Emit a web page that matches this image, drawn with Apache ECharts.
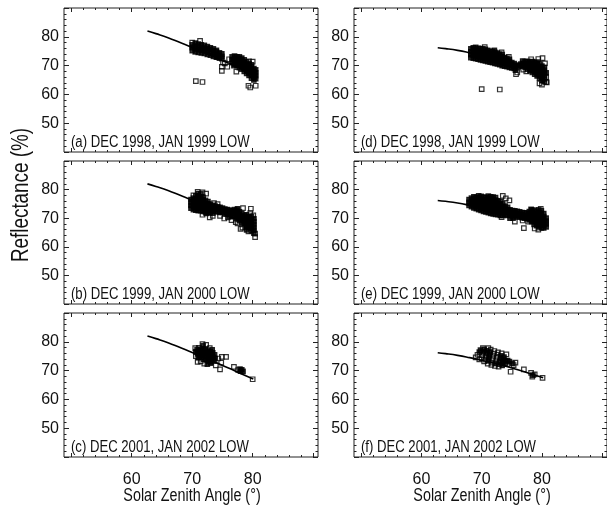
<!DOCTYPE html>
<html>
<head>
<meta charset="utf-8">
<script src="https://cdn.jsdelivr.net/npm/echarts@6/dist/echarts.min.js"></script>
<style>
  html, body { margin: 0; padding: 0; background: #fff; }
  #chart { width: 607px; height: 505px; }
</style>
</head>
<body>
<div id="chart"></div>
<script>
// Reflectance vs. solar zenith angle, six panels.
// Scatter data is written column-wise: [angle, refl1, refl2, ...].

const panelLabels = [
  '(a) DEC 1998, JAN 1999 LOW',
  '(b) DEC 1999, JAN 2000 LOW',
  '(c) DEC 2001, JAN 2002 LOW',
  '(d) DEC 1998, JAN 1999 LOW',
  '(e) DEC 1999, JAN 2000 LOW',
  '(f) DEC 2001, JAN 2002 LOW'
];

const xLabelTicks = [60, 70, 80];
const xMajorTicks = [50, 60, 70, 80, 90];
const xMinorTicks = [50, 52, 54, 56, 58, 60, 62, 64, 66, 68, 70, 72, 74, 76, 78, 80, 82, 84, 86, 88, 90];

// fitted model curves (left column, right column)
const fitLeft = [[62.6, 82.0], [64, 81.1], [66, 79.7], [68, 78.0], [70, 76.3], [72, 74.5],
                 [74, 72.7], [76, 70.9], [78, 69.0], [80.1, 67.1]];
const fitRight = [[62.7, 76.2], [64, 75.9], [66, 75.3], [68, 74.5], [70, 73.6], [72, 72.6],
                  [74, 71.5], [76, 70.3], [78, 69.0], [80.2, 67.5]];

const obsA = [
  [70.0, 75.2, 76.2, 77.2, 78.0],
  [70.5, 74.8, 75.8, 76.8, 77.8],
  [70.6, 64.6],
  [71.0, 74.6, 75.6, 76.6, 77.5],
  [71.3, 78.6],
  [71.5, 74.4, 75.4, 76.4, 77.2],
  [71.7, 64.3],
  [72.0, 74.2, 75.2, 76.1, 77.0],
  [72.5, 73.9, 74.9, 75.8, 76.6],
  [73.0, 73.6, 74.6, 75.5, 76.2],
  [73.5, 73.2, 74.2, 75.1, 75.8],
  [74.0, 72.9, 73.9, 74.8, 75.3],
  [74.2, 73.0],
  [74.5, 72.6, 73.5, 74.4],
  [74.9, 72.4, 73.2, 74.1, 69.6, 68.2],
  [75.1, 71.0],
  [75.4, 70.8],
  [75.8, 69.6],
  [76.1, 72.2],
  [76.6, 71.0, 72.0, 73.0],
  [76.9, 70.0],
  [77.0, 70.5, 71.5, 72.5, 73.3],
  [77.3, 67.9],
  [77.4, 70.0, 71.0, 72.0, 73.0],
  [77.8, 69.3, 70.3, 71.3, 72.3, 73.0],
  [78.2, 68.8, 69.8, 70.8, 71.8, 72.6],
  [78.6, 68.0, 69.0, 70.0, 71.0, 72.0],
  [79.0, 67.3, 68.3, 69.3, 70.3, 71.3],
  [79.3, 63.0],
  [79.4, 66.6, 67.6, 68.6, 69.6, 70.6, 71.5],
  [79.6, 62.4],
  [79.8, 65.6, 66.6, 67.6, 68.6, 69.6, 70.3],
  [80.0, 71.4],
  [80.2, 65.0, 66.0, 67.0, 68.0, 69.0],
  [80.5, 65.5, 66.5, 67.5, 68.5, 63.0]
];

const obsB = [
  [69.8, 73.5, 74.5, 75.5, 76.5],
  [70.2, 73.0, 74.0, 75.0, 76.0, 77.0, 78.0],
  [70.6, 72.8, 73.8, 74.8, 75.8, 76.8, 77.8],
  [70.9, 79.2],
  [71.0, 72.6, 73.6, 74.6, 75.6, 76.6, 77.6, 78.6],
  [71.4, 72.6, 73.6, 74.6, 75.6, 76.6, 77.5, 78.5],
  [71.7, 79.0, 71.2],
  [71.8, 72.4, 73.4, 74.4, 75.4, 76.4, 77.3],
  [72.2, 72.2, 73.2, 74.2, 75.2, 76.2],
  [72.3, 78.6, 71.7],
  [72.6, 72.0, 73.0, 74.0, 75.0, 75.8],
  [72.9, 70.3],
  [73.0, 72.0, 73.0, 74.0, 74.8],
  [73.4, 71.8, 72.8, 73.8, 74.5, 70.8],
  [73.6, 75.3],
  [73.8, 72.5, 73.4, 74.2],
  [74.2, 72.2, 73.2, 74.0, 74.9],
  [74.6, 72.0, 73.0, 73.8, 70.8],
  [75.0, 72.0, 72.8, 73.5],
  [75.3, 69.9],
  [75.4, 71.6, 72.5, 73.2],
  [75.8, 71.4, 72.3, 73.0],
  [75.9, 70.3],
  [76.2, 71.2, 72.0, 72.8, 70.5],
  [76.5, 69.3],
  [76.6, 70.8, 71.8, 72.6],
  [77.0, 70.5, 71.5, 72.3, 73.0],
  [77.2, 68.6],
  [77.4, 69.8, 70.8, 71.8, 72.8],
  [77.5, 73.3, 68.2],
  [77.8, 69.2, 70.2, 71.2, 72.2],
  [78.0, 66.3],
  [78.2, 68.6, 69.6, 70.6, 71.6],
  [78.3, 66.7],
  [78.4, 73.5],
  [78.6, 68.0, 69.0, 70.0, 71.0],
  [78.9, 66.9],
  [79.0, 65.9, 67.4, 68.4, 69.4, 70.4, 71.2],
  [79.3, 65.4],
  [79.4, 66.6, 67.6, 68.6, 69.6, 70.6],
  [79.6, 71.8],
  [79.7, 73.3],
  [79.8, 65.6, 66.6, 67.6, 68.6, 69.6, 70.6],
  [80.1, 71.0],
  [80.2, 64.8, 65.8, 66.8, 67.8, 68.8, 69.8],
  [80.4, 63.4, 64.6]
];

const obsC = [
  [70.5, 77.8], [70.6, 75.0, 76.5], [70.8, 77.3], [70.9, 73.0, 75.8], [71.0, 74.5, 76.8],
  [71.1, 77.9], [71.2, 75.2], [71.3, 76.3], [71.4, 73.2, 77.4], [71.5, 74.6], [71.6, 75.7],
  [71.7, 76.9, 79.2], [71.8, 78.6], [71.9, 74.0], [72.0, 72.4, 75.2], [72.1, 76.3],
  [72.2, 77.5], [72.3, 73.7, 78.9], [72.4, 74.8], [72.5, 72.2, 75.9], [72.6, 77.0],
  [72.7, 73.3], [72.8, 74.3], [72.9, 75.4, 77.8], [73.0, 72.6, 76.5], [73.1, 73.0],
  [73.2, 74.0], [73.3, 75.1, 77.2], [73.4, 76.2], [73.5, 74.6], [73.6, 73.4], [73.7, 75.5],
  [73.8, 74.2], [73.9, 71.8], [74.3, 74.2], [74.6, 70.4], [74.8, 72.8], [74.9, 74.8],
  [75.6, 74.8], [76.9, 71.3], [77.6, 70.2], [77.9, 70.5], [78.0, 69.8], [78.2, 70.3],
  [78.4, 69.7], [80.0, 67.0]
];

const obsD = [
  [68.2, 72.8, 73.8, 74.8, 75.8],
  [68.6, 72.6, 73.6, 74.6, 75.6, 76.2],
  [69.0, 72.4, 73.4, 74.4, 75.4, 76.3],
  [69.4, 72.2, 73.2, 74.2, 75.2, 76.0],
  [69.8, 72.0, 73.0, 74.0, 75.0, 75.9],
  [70.0, 61.8],
  [70.2, 71.8, 72.8, 73.8, 74.8, 75.8],
  [70.5, 76.4],
  [70.6, 71.6, 72.6, 73.6, 74.6, 75.6],
  [71.0, 71.4, 72.4, 73.4, 74.4, 75.3],
  [71.4, 71.2, 72.2, 73.2, 74.2, 75.0],
  [71.8, 71.0, 72.0, 73.0, 74.0, 74.8],
  [72.1, 75.3],
  [72.2, 70.8, 71.8, 72.8, 73.8, 74.6],
  [72.6, 70.6, 71.6, 72.6, 73.6, 74.3],
  [73.0, 70.3, 71.3, 72.3, 73.3, 74.0, 61.7],
  [73.3, 74.6],
  [73.4, 70.0, 71.0, 72.0, 73.0, 73.8],
  [73.8, 69.8, 70.8, 71.8, 72.8],
  [74.2, 69.6, 70.6, 71.6, 72.5],
  [74.5, 73.0],
  [74.6, 69.4, 70.4, 71.4, 72.2],
  [75.0, 69.2, 70.2, 71.0],
  [75.4, 69.0, 69.9, 70.7],
  [75.6, 68.4], [75.7, 67.0], [75.8, 70.2], [75.9, 67.6], [76.0, 69.4], [76.3, 69.9], [76.5, 70.5],
  [76.8, 69.8, 70.8, 71.6],
  [76.9, 68.6],
  [77.2, 69.4, 70.4, 71.4],
  [77.4, 68.0],
  [77.6, 68.8, 69.8, 70.8, 71.5],
  [78.0, 68.2, 69.2, 70.2, 71.2],
  [78.2, 72.2],
  [78.4, 67.6, 68.6, 69.6, 70.6, 71.4],
  [78.8, 67.0, 68.0, 69.0, 70.0, 71.0],
  [79.2, 66.4, 67.4, 68.4, 69.4, 70.4, 71.2],
  [79.4, 72.3],
  [79.6, 65.6, 66.6, 67.6, 68.6, 69.6, 70.6, 63.8],
  [80.0, 64.8, 65.8, 66.8, 67.8, 68.8, 69.8, 63.4],
  [80.1, 72.6],
  [80.4, 64.4, 65.4, 66.4, 67.4, 68.4, 69.4],
  [80.5, 70.8],
  [80.7, 64.3, 66.0, 67.5],
  [80.8, 64.2]
];

const obsE = [
  [67.9, 74.5, 75.5, 76.5],
  [68.3, 74.0, 75.0, 76.0, 77.0],
  [68.7, 73.6, 74.6, 75.6, 76.6, 77.5],
  [69.1, 73.3, 74.3, 75.3, 76.3, 77.3],
  [69.5, 73.0, 74.0, 75.0, 76.0, 77.0, 77.8],
  [69.9, 72.7, 73.7, 74.7, 75.7, 76.7, 77.6],
  [70.3, 72.4, 73.4, 74.4, 75.4, 76.4, 77.4],
  [70.7, 72.2, 73.2, 74.2, 75.2, 76.2, 77.2],
  [71.1, 71.9, 72.9, 73.9, 74.9, 75.9, 76.9, 77.7],
  [71.5, 71.7, 72.7, 73.7, 74.7, 75.7, 76.7, 77.5],
  [71.9, 71.5, 72.5, 73.5, 74.5, 75.5, 76.5, 77.4],
  [72.3, 71.3, 72.3, 73.3, 74.3, 75.3, 76.3, 77.2],
  [72.7, 71.2, 72.2, 73.2, 74.2, 75.2, 76.1],
  [73.1, 71.0, 72.0, 73.0, 74.0, 75.0, 75.9],
  [73.3, 70.4],
  [73.5, 71.0, 72.0, 73.0, 74.0, 75.0, 77.8],
  [73.9, 71.2, 72.2, 73.2, 74.2],
  [74.0, 76.9],
  [74.3, 71.0, 72.0, 73.0, 73.8],
  [74.6, 76.2],
  [74.7, 71.0, 72.0, 72.9, 70.0],
  [75.1, 70.8, 71.8, 72.7],
  [75.2, 70.0],
  [75.5, 70.8, 71.8, 72.6, 68.8],
  [75.9, 70.6, 71.6, 72.4],
  [76.3, 70.4, 71.4, 72.2],
  [76.7, 70.2, 71.2, 72.0],
  [76.8, 69.2],
  [77.0, 66.5],
  [77.1, 70.0, 71.0, 71.9],
  [77.5, 69.8, 70.8, 71.8],
  [77.7, 68.8],
  [77.9, 69.4, 70.4, 71.4, 72.3],
  [78.2, 73.1],
  [78.3, 68.8, 69.8, 70.8, 71.8, 72.8],
  [78.7, 67.8, 68.8, 69.8, 70.8, 71.8, 72.8],
  [78.8, 66.4],
  [79.1, 67.4, 68.4, 69.4, 70.4, 71.4, 72.4],
  [79.4, 66.0],
  [79.5, 67.0, 68.0, 69.0, 70.0, 71.0, 72.0, 72.9],
  [79.8, 73.3],
  [79.9, 66.6, 67.6, 68.6, 69.6, 70.6, 71.6, 72.6],
  [80.3, 66.6, 67.6, 68.6, 69.6, 70.6, 71.6],
  [80.7, 67.0, 68.0, 69.0, 70.0]
];

const obsF = [
  [69.0, 74.6], [69.3, 75.5], [69.6, 76.4, 73.9], [69.8, 77.1], [70.0, 74.3], [70.1, 75.4],
  [70.2, 77.8], [70.3, 76.5], [70.4, 77.4, 73.2], [70.6, 73.8], [70.7, 74.9], [70.8, 75.9],
  [70.9, 76.9], [71.0, 72.4], [71.1, 73.4, 77.8], [71.2, 74.4], [71.3, 75.4], [71.4, 76.4],
  [71.5, 77.3], [71.6, 72.0], [71.7, 72.8], [71.8, 73.9], [71.9, 74.9], [72.0, 75.9],
  [72.1, 76.8], [72.2, 71.6], [72.3, 72.5], [72.4, 73.5], [72.5, 74.5], [72.6, 75.5],
  [72.7, 76.3], [72.8, 71.4], [72.9, 72.2], [73.0, 73.2], [73.1, 74.2], [73.2, 75.1],
  [73.3, 76.0], [73.4, 71.8], [73.5, 72.8], [73.6, 73.8], [73.7, 74.7], [73.9, 72.4],
  [74.0, 73.4], [74.1, 75.6], [74.2, 72.2], [74.3, 73.5], [74.6, 73.1], [74.8, 69.6],
  [75.1, 72.5], [75.3, 71.9], [75.6, 72.8], [77.0, 70.4], [78.2, 69.2], [78.4, 67.9],
  [78.5, 68.4], [78.8, 68.7], [80.1, 67.5]
];

const observations = [obsA, obsB, obsC, obsD, obsE, obsF];
const fits = [fitLeft, fitLeft, fitLeft, fitRight, fitRight, fitRight];

const FONT = "'Liberation Sans', Arial, sans-serif";
const NARROW = 0.82; // horizontal squeeze for the condensed captions

const panelBoxes = [
  { left: 64, top: 8, width: 254, height: 144 },
  { left: 64, top: 161, width: 254, height: 143 },
  { left: 64, top: 313, width: 254, height: 144 },
  { left: 354, top: 8, width: 256, height: 144 },
  { left: 354, top: 161, width: 256, height: 143 },
  { left: 354, top: 313, width: 256, height: 144 }
];

// Flatten the columns into [angle, reflectance] points. Where many squares
// pile up they saturate to solid black, so crowded points get a dark fill.
function toItems(cols) {
  const pts = [];
  cols.forEach(c => { for (let i = 1; i < c.length; i++) pts.push([c[0], c[i]]); });
  return pts.map(p => {
    let near = 0;
    pts.forEach(q => {
      if (q !== p && Math.abs(q[0] - p[0]) <= 0.55 && Math.abs(q[1] - p[1]) <= 1.1) near++;
    });
    return near >= 3 ? { value: p, itemStyle: { color: '#000' } } : { value: p };
  });
}

const grid = [], xAxis = [], yAxis = [], series = [], graphic = [];

panelBoxes.forEach((b, i) => {
  const bottomRow = (i % 3) === 2;
  grid.push({ left: b.left, top: b.top, width: b.width, height: b.height,
              show: true, borderColor: '#222', borderWidth: 1, backgroundColor: 'transparent' });

  const xBase = {
    type: 'value', gridIndex: i, min: 48.8, max: 90.8,
    axisLine: { show: false }, splitLine: { show: false }
  };
  const xMain = xAxis.length;
  // bottom axis with labels and major ticks
  xAxis.push(Object.assign({}, xBase, {
    position: 'bottom',
    axisTick: { inside: true, length: 4, customValues: xMajorTicks, lineStyle: { color: '#222' } },
    axisLabel: { show: bottomRow, customValues: xLabelTicks, margin: 15,
                 fontFamily: FONT, fontSize: 16, color: '#111' }
  }));
  // minor ticks bottom, major & minor ticks top
  xAxis.push(Object.assign({}, xBase, { position: 'bottom',
    axisTick: { inside: true, length: 2, customValues: xMinorTicks, lineStyle: { color: '#222' } },
    axisLabel: { show: false } }));
  xAxis.push(Object.assign({}, xBase, { position: 'top',
    axisTick: { inside: true, length: 4, customValues: xMajorTicks, lineStyle: { color: '#222' } },
    axisLabel: { show: false } }));
  xAxis.push(Object.assign({}, xBase, { position: 'top',
    axisTick: { inside: true, length: 2, customValues: xMinorTicks, lineStyle: { color: '#222' } },
    axisLabel: { show: false } }));

  const yBase = {
    type: 'value', gridIndex: i, min: 40, max: 90, interval: 10,
    axisLine: { show: false }, splitLine: { show: false },
    axisTick: { inside: true, length: 5, lineStyle: { color: '#222' } },
    minorTick: { show: true, splitNumber: 5, length: 2.5, lineStyle: { color: '#222' } }
  };
  const yMain = yAxis.length;
  yAxis.push(Object.assign({}, yBase, { position: 'left',
    axisLabel: { show: true, showMinLabel: false, showMaxLabel: false, margin: 5,
                 fontFamily: FONT, fontSize: 16, color: '#111' } }));
  yAxis.push(Object.assign({}, yBase, { position: 'right', axisLabel: { show: false } }));

  series.push({
    type: 'line', xAxisIndex: xMain, yAxisIndex: yMain, data: fits[i],
    smooth: true, showSymbol: false, silent: true,
    lineStyle: { color: '#000', width: 1.6 }, z: 2
  });
  series.push({
    type: 'scatter', xAxisIndex: xMain, yAxisIndex: yMain, data: toItems(observations[i]),
    symbol: 'rect', symbolSize: 4.5, silent: true,
    itemStyle: { color: 'rgba(0,0,0,0)', borderColor: '#000', borderWidth: 1.2 }, z: 3
  });

  // panel caption, lower-left inside the frame
  graphic.push({
    type: 'text', x: b.left + 7, y: b.top + b.height - 9.5, scaleX: NARROW, z: 10,
    style: { text: panelLabels[i], fontFamily: FONT, fontSize: 16, fill: '#111',
             align: 'left', verticalAlign: 'middle' }
  });

  if (bottomRow) {
    graphic.push({
      type: 'text', x: b.left + 128, y: 496, scaleX: NARROW,
      style: { text: 'Solar Zenith Angle (°)', fontFamily: FONT, fontSize: 17.5, fill: '#111',
               align: 'center', verticalAlign: 'middle' }
    });
  }
});

graphic.push({
  type: 'text', x: 22, y: 195, rotation: Math.PI / 2, scaleX: NARROW,
  style: { text: 'Reflectance (%)', fontFamily: FONT, fontSize: 23, fill: '#111',
           align: 'center', verticalAlign: 'middle' }
});

const chart = echarts.init(document.getElementById('chart'), null, { renderer: 'canvas' });
chart.setOption({
  animation: false,
  backgroundColor: '#fff',
  grid, xAxis, yAxis, series, graphic
});
</script>
</body>
</html>
